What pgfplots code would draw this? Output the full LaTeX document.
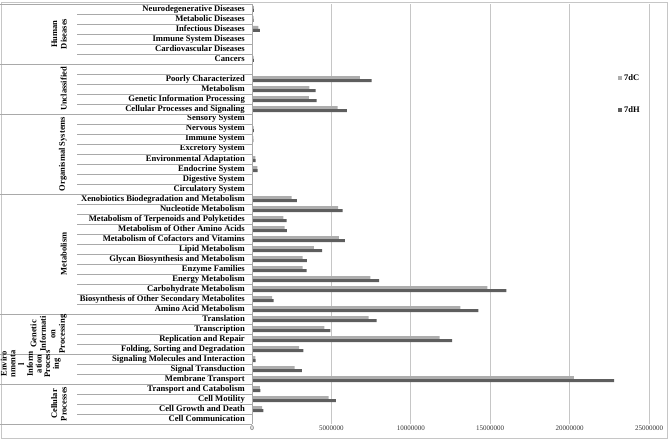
\documentclass[border=0pt]{standalone}
\usepackage{fontspec}
\setmainfont{Liberation Serif}
\usepackage{pgfplots}
\pgfplotsset{compat=1.18}
\definecolor{cC}{HTML}{ADADAD}
\definecolor{cH}{HTML}{5E5E5E}
\definecolor{gridc}{HTML}{C6C6C6}
\definecolor{tabc}{HTML}{A9A9A9}
\pgfplotsset{sqleg/.style={legend image code/.code={\fill[##1] (0pt,-2pt) rectangle (4pt,2pt);}}}
\begin{document}
\begin{tikzpicture}[x=1pt,y=1pt]
\path[use as bounding box] (0,0) rectangle (668,440);
\draw[gridc, line width=0.8pt] (1,2) rectangle (667,438);
\begin{axis}[
  at={(252pt,16pt)}, anchor=south west, scale only axis,
  width=397pt, height=420pt,
  xmin=0, xmax=25000000, ymin=-0.5, ymax=41.5,
  xbar, bar width=3pt,
  xtick={0,5000000,10000000,15000000,20000000,25000000},
  xticklabels={0,5000000,10000000,15000000,20000000,25000000},
  scaled x ticks=false,
  ytick={0,...,41},
  yticklabels={Cell Communication,Cell Growth and Death,Cell Motility,Transport and Catabolism,Membrane Transport,Signal Transduction,Signaling Molecules and Interaction,{Folding, Sorting and Degradation},Replication and Repair,Transcription,Translation,Amino Acid Metabolism,Biosynthesis of Other Secondary Metabolites,Carbohydrate Metabolism,Energy Metabolism,Enzyme Families,Glycan Biosynthesis and Metabolism,Lipid Metabolism,Metabolism of Cofactors and Vitamins,Metabolism of Other Amino Acids,Metabolism of Terpenoids and Polyketides,Nucleotide Metabolism,Xenobiotics Biodegradation and Metabolism,Circulatory System,Digestive System,Endocrine System,Environmental Adaptation,Excretory System,Immune System,Nervous System,Sensory System,Cellular Processes and Signaling,Genetic Information Processing,Metabolism,Poorly Characterized,{},Cancers,Cardiovascular Diseases,Immune System Diseases,Infectious Diseases,Metabolic Diseases,Neurodegenerative Diseases},
  xmajorgrids, grid style={gridc, line width=1pt},
  axis line style={draw=none},
  major tick length=0pt,
  yticklabel style={font=\bfseries\fontsize{8.6}{9}\selectfont, anchor=east, inner sep=0pt, xshift=-7pt},
  xticklabel style={font=\fontsize{7}{8}\selectfont, inner sep=0pt, anchor=north, yshift=-1.5pt, text=black!80},
  legend style={at={(0.922,0.838)}, anchor=north west, draw=none, fill=none,
    font=\bfseries\fontsize{8.5}{9}\selectfont, row sep=21pt, inner sep=0pt},
  legend cell align=left,
  clip=false,
]
\addplot[fill=cC, draw=none, bar shift=1.5pt, sqleg] coordinates {
(0,0) (630000,1) (4820000,2) (500000,3) (20270000,4) (2680000,5) (210000,6) (2960000,7)
(11820000,8) (4550000,9) (7340000,10) (13120000,11) (1260000,12) (14820000,13) (7460000,14)
(3190000,15) (3190000,16) (3900000,17) (5470000,18) (2050000,19) (1970000,20) (5430000,21)
(2490000,22) (10000,23) (10000,24) (340000,25) (210000,26) (20000,27) (80000,28) (100000,29)
(0,30) (5390000,31) (3580000,32) (3610000,33) (6790000,34) (0,35) (100000,36) (10000,37)
(30000,38) (400000,39) (100000,40) (120000,41)
};
\addlegendentry{7dC}
\addplot[fill=cH, draw=none, bar shift=-1.5pt, sqleg] coordinates {
(0,0) (710000,1) (5280000,2) (520000,3) (22810000,4) (3140000,5) (230000,6) (3230000,7)
(12600000,8) (4930000,9) (7840000,10) (14260000,11) (1360000,12) (16020000,13) (8010000,14)
(3440000,15) (3460000,16) (4420000,17) (5850000,18) (2200000,19) (2180000,20) (5700000,21)
(2830000,22) (10000,23) (10000,24) (360000,25) (230000,26) (20000,27) (90000,28) (120000,29)
(0,30) (5970000,31) (4070000,32) (4000000,33) (7530000,34) (0,35) (120000,36) (10000,37)
(30000,38) (500000,39) (100000,40) (120000,41)
};
\addlegendentry{7dH}
\end{axis}
% category table lines
\foreach \k in {0,6,11,19,31,35,38,42} {\draw[tabc, line width=0.8pt] (0,436-10*\k) -- (252,436-10*\k);}
\foreach \k in {1,2,3,4,5,7,8,9,10,12,13,14,15,16,17,18,20,21,22,23,24,25,26,27,28,29,30,32,33,34,36,37,39,40,41} {\draw[tabc, line width=0.8pt] (77,436-10*\k) -- (252,436-10*\k);}
\draw[tabc, line width=0.8pt] (252,16) -- (252,436);
\begin{scope}[every node/.style={rotate=90, anchor=south, align=center, inner sep=1pt, font=\bfseries\fontsize{8.5}{9.5}\selectfont}]
\node at (68,406) {Human\\Diseases};
\node at (68,351) {Unclassified};
\node at (68,286) {Organismal Systems};
\node at (68,186) {Metabolism};
\node at (68,106) {Genetic\\Informati\\on\\Processing};
\node[font=\bfseries\fontsize{8.5}{8.7}\selectfont] at (62,76) {Enviro\\nmenta\\l\\Inform\\ation\\Process\\ing};
\node at (68,36) {Cellular\\Processes};
\end{scope}
\end{tikzpicture}
\end{document}
